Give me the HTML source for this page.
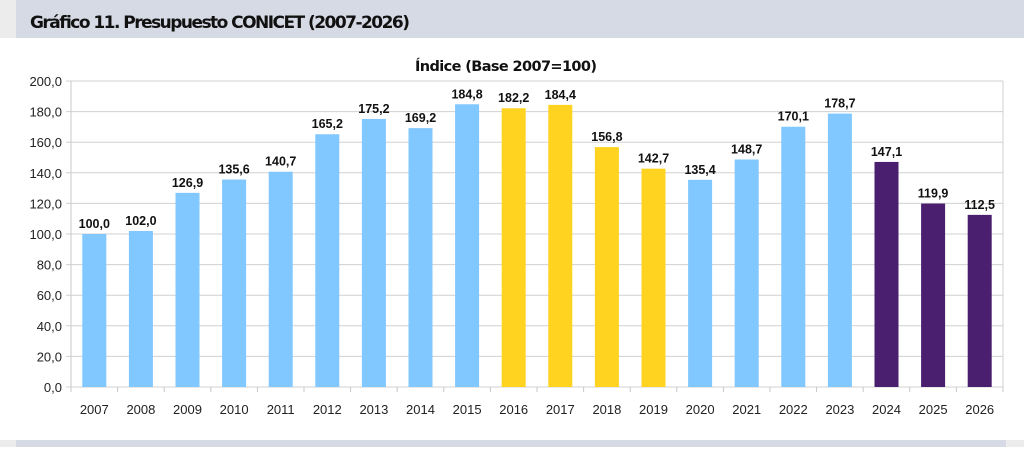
<!DOCTYPE html>
<html><head><meta charset="utf-8"><style>
body{margin:0;width:1024px;height:447px;background:#fff;overflow:hidden;font-family:"Liberation Sans",sans-serif}
</style></head><body>
<svg width="1024" height="447" xmlns="http://www.w3.org/2000/svg" font-family="Liberation Sans, sans-serif">
<rect x="0" y="0" width="16" height="38" fill="#ececec"/>
<rect x="16" y="0" width="1008" height="38" fill="#d6dae4"/>
<text x="30" y="28" font-size="17" font-weight="bold" fill="#111" font-family="DejaVu Sans, sans-serif" textLength="380">Gráfico 11. Presupuesto CONICET (2007-2026)</text>
<rect x="0" y="440" width="16" height="7" fill="#ececec"/>
<rect x="16" y="440" width="990" height="7" fill="#d6dae4"/>
<rect x="1006" y="440" width="18" height="7" fill="#ececec"/>
<text x="415" y="71" font-size="14.5" font-weight="bold" fill="#111" font-family="DejaVu Sans, sans-serif" textLength="182">Índice (Base 2007=100)</text>
<g id="g"></g>
</svg>
<script>
const g=document.getElementById('g');
const ns='http://www.w3.org/2000/svg';
function el(t,a,txt){const e=document.createElementNS(ns,t);for(const k in a)e.setAttribute(k,a[k]);if(txt!=null)e.textContent=txt;g.appendChild(e);}
const x0=71,x1=1003,y0=387,ppu=1.53;
for(let v=0;v<=200;v+=20){const y=y0-v*ppu;
el('line',{x1:x0-5,x2:x1,y1:y,y2:y,stroke:'#d0d0d0','stroke-width':1});
el('text',{x:62,y:y+5,'font-size':13,'text-anchor':'end',fill:'#222'},v.toFixed(1).replace('.',','));}
el('line',{x1:x0,x2:x0,y1:y0-200*ppu,y2:y0+5,stroke:'#c8c8c8'});
el('line',{x1:x1,x2:x1,y1:y0-200*ppu,y2:y0,stroke:'#d0d0d0'});
const d=[100,102,126.9,135.6,140.7,165.2,175.2,169.2,184.8,182.2,184.4,156.8,142.7,135.4,148.7,170.1,178.7,147.1,119.9,112.5];
const w=(x1-x0)/20;
d.forEach((v,i)=>{const yr=2007+i;const c=(yr>=2016&&yr<=2019)?'#ffd320':(yr>=2024?'#4b1f6f':'#80c8ff');
const cx=x0+w*(i+0.5);const h=v*ppu;
el('rect',{x:cx-12,y:y0-h,width:24,height:h,fill:c});
el('text',{x:cx,y:y0-h-6,'font-size':12.5,'font-weight':'bold','text-anchor':'middle',fill:'#111'},v.toFixed(1).replace('.',','));
el('text',{x:cx,y:y0+27,'font-size':13,'text-anchor':'middle',fill:'#222'},yr);
el('line',{x1:x0+w*(i+1),x2:x0+w*(i+1),y1:y0,y2:y0+5,stroke:'#c8c8c8'});});
</script>
</body></html>
